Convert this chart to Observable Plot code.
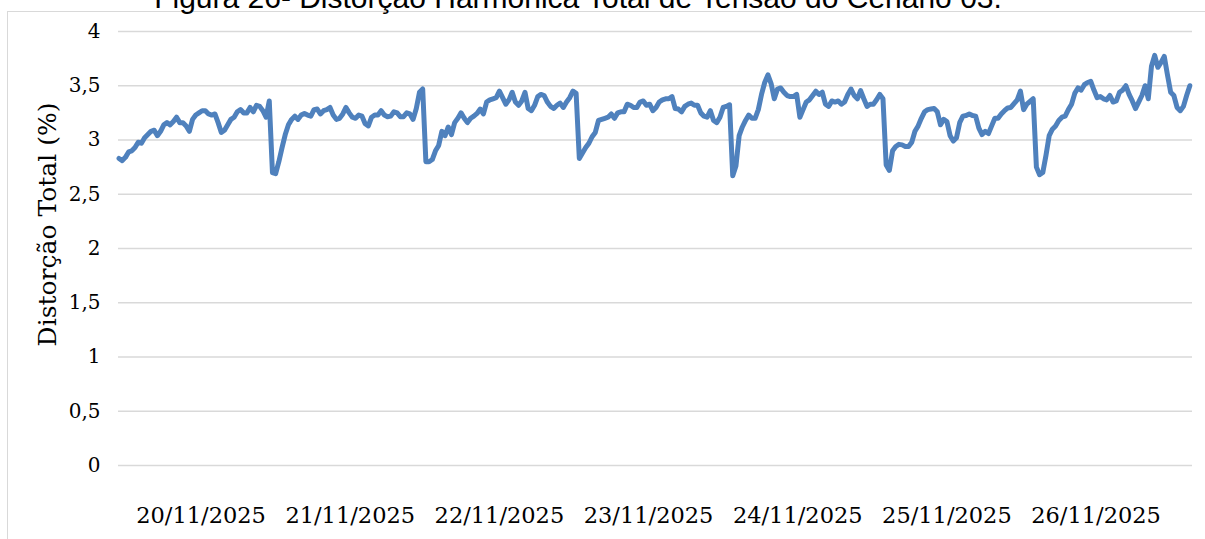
<!DOCTYPE html>
<html><head><meta charset="utf-8">
<script src="https://cdn.jsdelivr.net/npm/d3@7"></script>
<script src="https://cdn.jsdelivr.net/npm/@observablehq/plot@0.6"></script>
<style>
html,body{margin:0;padding:0;background:#fff;}
#wrap{position:relative;width:1205px;height:539px;overflow:hidden;background:#fff;}
#frame{position:absolute;left:7px;top:11px;width:1400px;height:800px;border-left:1px solid #d9d9d9;border-top:1px solid #d9d9d9;}
#title{position:absolute;left:0;width:1156px;top:-17px;line-height:30px;text-align:center;font-family:"Liberation Sans",Arial,sans-serif;font-size:30px;color:#000;white-space:nowrap;}
#chart{position:absolute;left:0;top:0;}
</style></head>
<body>
<div id="wrap"><div id="frame"></div><div id="title">Figura 26- Distorção Harmônica Total de Tensão do Cenário 03.</div><div id="chart"></div></div>
<script>
// Days (30-minute readings of total harmonic distortion, %)
const days = ["2025-11-20","2025-11-21","2025-11-22","2025-11-23","2025-11-24","2025-11-25","2025-11-26"];
const d20 = [2.83,2.81,2.84,2.89,2.90,2.93,2.98,2.97,3.02,3.05,3.08,3.09,3.04,3.08,3.14,3.16,3.14,3.17,3.21,3.16,3.16,3.13,3.08,3.19,3.23,3.25,3.27,3.27,3.24,3.23,3.24,3.16,3.07,3.09,3.14,3.19,3.21,3.26,3.28,3.25,3.25,3.30,3.26,3.32,3.31,3.27,3.21,3.36];
const d21 = [2.70,2.69,2.80,2.93,3.05,3.14,3.19,3.22,3.19,3.23,3.245,3.23,3.22,3.28,3.285,3.24,3.27,3.28,3.30,3.23,3.19,3.20,3.24,3.30,3.25,3.21,3.20,3.23,3.22,3.15,3.13,3.21,3.23,3.23,3.27,3.23,3.215,3.22,3.26,3.25,3.215,3.215,3.25,3.24,3.19,3.29,3.44,3.47];
const d22 = [2.80,2.80,2.82,2.90,2.95,3.08,3.04,3.12,3.05,3.16,3.20,3.25,3.20,3.16,3.20,3.22,3.245,3.285,3.24,3.35,3.37,3.38,3.39,3.45,3.39,3.33,3.37,3.44,3.35,3.32,3.36,3.44,3.29,3.27,3.32,3.40,3.42,3.41,3.35,3.31,3.29,3.32,3.34,3.30,3.35,3.39,3.45,3.43];
const d23 = [2.83,2.88,2.93,2.97,3.03,3.07,3.18,3.19,3.20,3.21,3.24,3.20,3.25,3.26,3.26,3.33,3.32,3.30,3.30,3.35,3.36,3.32,3.33,3.27,3.30,3.35,3.37,3.38,3.38,3.40,3.29,3.285,3.26,3.31,3.33,3.34,3.32,3.32,3.25,3.22,3.21,3.27,3.18,3.16,3.21,3.30,3.31,3.325];
const d24 = [2.67,2.76,3.04,3.12,3.18,3.23,3.20,3.20,3.28,3.42,3.53,3.60,3.52,3.38,3.47,3.48,3.44,3.41,3.40,3.40,3.42,3.21,3.28,3.35,3.37,3.41,3.45,3.42,3.44,3.33,3.31,3.36,3.35,3.36,3.33,3.35,3.42,3.47,3.41,3.38,3.455,3.38,3.31,3.33,3.33,3.37,3.42,3.38];
const d25 = [2.77,2.72,2.90,2.94,2.96,2.955,2.94,2.94,2.98,3.08,3.13,3.20,3.26,3.28,3.285,3.29,3.26,3.14,3.19,3.17,3.04,2.99,3.02,3.16,3.22,3.225,3.24,3.225,3.22,3.11,3.05,3.08,3.06,3.13,3.20,3.20,3.24,3.27,3.295,3.30,3.335,3.37,3.45,3.28,3.33,3.355,3.38,2.75];
const d26 = [2.68,2.70,2.86,3.04,3.10,3.13,3.18,3.21,3.22,3.28,3.33,3.43,3.48,3.46,3.51,3.53,3.54,3.46,3.39,3.40,3.38,3.37,3.41,3.35,3.36,3.44,3.46,3.50,3.42,3.36,3.29,3.35,3.41,3.50,3.38,3.68,3.78,3.67,3.715,3.77,3.60,3.44,3.41,3.30,3.27,3.31,3.41,3.50];
const series = [d20,d21,d22,d23,d24,d25,d26];

// Axis ticks
const yTicks = [0,0.5,1,1.5,2,2.5,3,3.5,4];
const yTickLabels = ["0","0,5","1","1,5","2","2,5","3","3,5","4"];
const xTickTimes = ["2025-11-20T12:50Z","2025-11-21T12:10Z","2025-11-22T11:30Z","2025-11-23T10:50Z","2025-11-24T10:10Z","2025-11-25T09:30Z","2025-11-26T08:50Z"];
const xTickLabels = ["20/11/2025","21/11/2025","22/11/2025","23/11/2025","24/11/2025","25/11/2025","26/11/2025"];
const yTitle = "Distorção Total (%)";

const rows = [];
series.forEach((vals, k) => {
  const start = new Date(days[k] + "T00:00:00Z").getTime();
  vals.forEach((v, j) => rows.push({t: new Date(start + j * 30 * 60000), v}));
});
const xTicks = xTickTimes.map(s => new Date(s));
const xLabelMap = new Map(xTicks.map((d, i) => [d.getTime(), xTickLabels[i]]));
const yLabelMap = new Map(yTicks.map((d, i) => [d, yTickLabels[i]]));

const chart = Plot.plot({
  width: 1205,
  height: 539,
  marginLeft: 118,
  marginRight: 13,
  marginTop: 31,
  marginBottom: 74,
  style: {fontFamily: "'DejaVu Serif', serif", fontSize: "20px", color: "#000", background: "transparent", overflow: "visible"},
  x: {type: "utc", domain: [new Date("2025-11-19T23:55:00Z"), new Date("2025-11-26T23:55:00Z")]},
  y: {domain: [0, 4]},
  marks: [
    Plot.gridY(yTicks, {stroke: "#d9d9d9", strokeOpacity: 1, strokeWidth: 1.5}),
    Plot.axisY(yTicks, {tickSize: 0, tickPadding: 18, tickFormat: d => yLabelMap.get(d), label: null}),
    Plot.axisX(xTicks, {tickSize: 0, tickPadding: 42, fontSize: 22.5, tickFormat: d => xLabelMap.get(d.getTime()), label: null}),
    Plot.line(rows, {x: "t", y: "v", stroke: "#4f81bd", strokeWidth: 5, strokeLinejoin: "round", strokeLinecap: "round"}),
    Plot.text([yTitle], {frameAnchor: "left", textAnchor: "middle", lineAnchor: "middle", rotate: -90, dx: -71, dy: -24, fontSize: 25, fill: "#000"})
  ]
});
document.getElementById("chart").appendChild(chart);
</script>
</body></html>
